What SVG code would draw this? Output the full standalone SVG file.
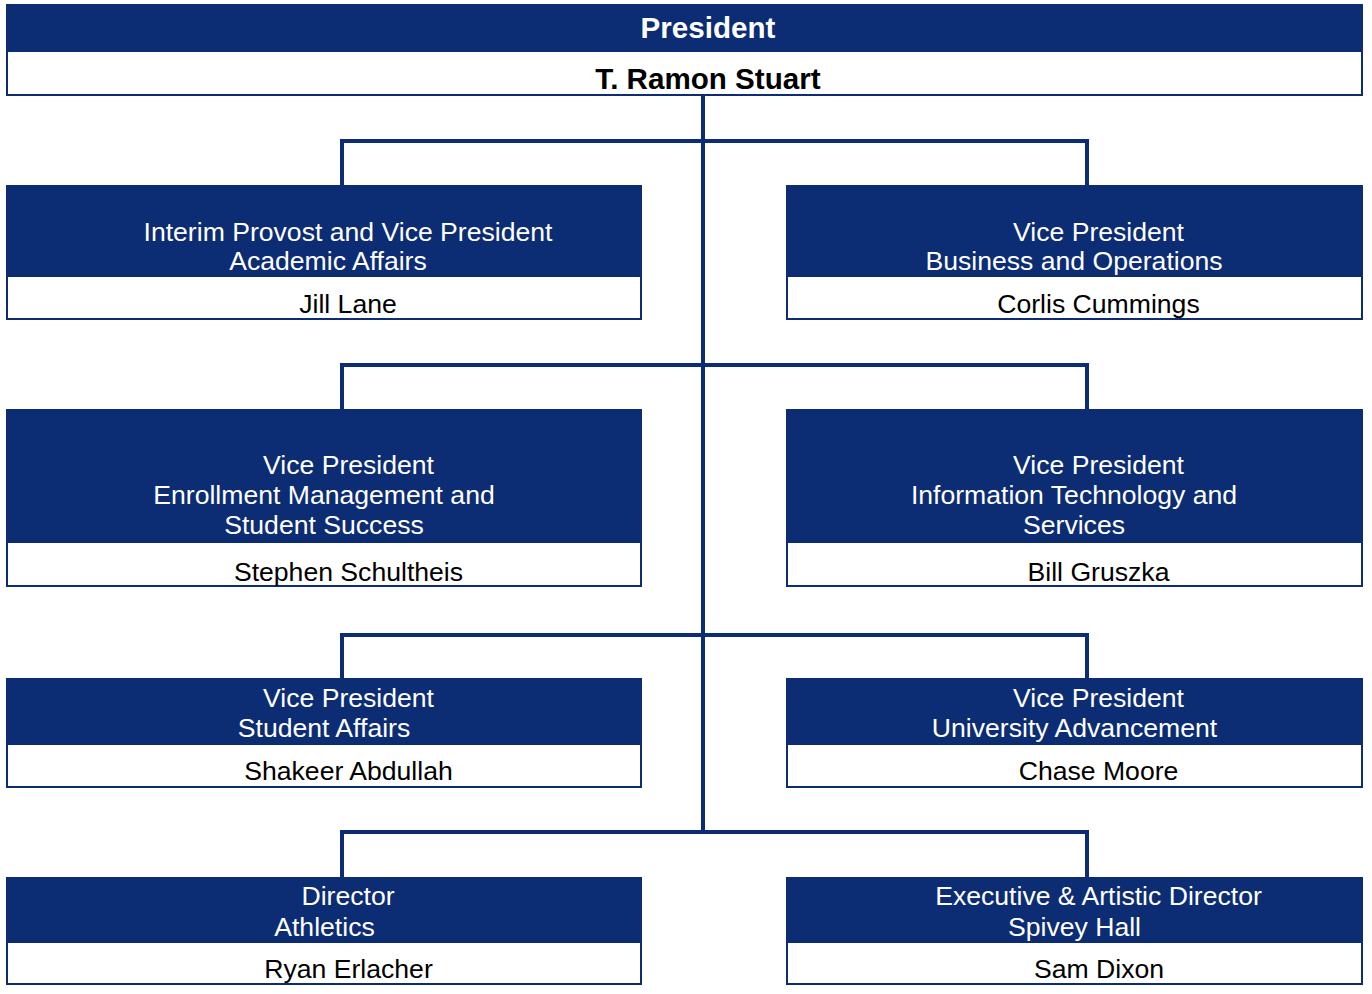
<svg xmlns="http://www.w3.org/2000/svg" width="1372" height="994" viewBox="0 0 1372 994">
<style>
.hd{fill:#0c2c74}
.wb{fill:#ffffff;stroke:#0c2c74;stroke-width:2}
.t{font-family:"Liberation Sans",Arial,sans-serif;font-size:26.6px;text-anchor:middle}
.tw{fill:#ffffff}
.tk{fill:#000000}
.tb{font-family:"Liberation Sans",Arial,sans-serif;font-size:29.6px;font-weight:bold;text-anchor:middle}
.c{fill:none;stroke:#0c2c74;stroke-width:4}
</style>
<rect width="1372" height="994" fill="#ffffff"/>
<g id="connectors">
<line class="c" x1="703" y1="95" x2="703" y2="834"/>
<polyline class="c" points="342,185 342,141 1087,141 1087,185"/>
<polyline class="c" points="342,409 342,365 1087,365 1087,409"/>
<polyline class="c" points="342,678 342,635 1087,635 1087,678"/>
<polyline class="c" points="342,877 342,832 1087,832 1087,877"/>
</g>
<g id="president">
<rect class="wb" x="7" y="50" width="1355" height="45"/>
<rect class="hd" x="6" y="4" width="1357" height="48"/>
<text class="tb tw" x="708" y="38">President</text>
<text class="tb tk" x="708" y="88.5">T. Ramon Stuart</text>
</g>
<g id="academic-affairs">
<rect class="wb" x="7" y="275" width="634" height="44"/>
<rect class="hd" x="6" y="185" width="636" height="92"/>
<text class="t tw" x="348" y="240.5">Interim Provost and Vice President</text>
<text class="t tw" x="328" y="270">Academic Affairs</text>
<text class="t tk" x="348" y="312.5">Jill Lane</text>
</g>
<g id="business-operations">
<rect class="wb" x="787" y="275" width="575" height="44"/>
<rect class="hd" x="786" y="185" width="577" height="92"/>
<text class="t tw" x="1098.5" y="240.5">Vice President</text>
<text class="t tw" x="1074" y="270">Business and Operations</text>
<text class="t tk" x="1098.5" y="312.5">Corlis Cummings</text>
</g>
<g id="enrollment">
<rect class="wb" x="7" y="541" width="634" height="45"/>
<rect class="hd" x="6" y="409" width="636" height="134"/>
<text class="t tw" x="348.5" y="473.5">Vice President</text>
<text class="t tw" x="324" y="503.5">Enrollment Management and</text>
<text class="t tw" x="324" y="533.5">Student Success</text>
<text class="t tk" x="348.5" y="580.5">Stephen Schultheis</text>
</g>
<g id="information-technology">
<rect class="wb" x="787" y="541" width="575" height="45"/>
<rect class="hd" x="786" y="409" width="577" height="134"/>
<text class="t tw" x="1098.5" y="473.5">Vice President</text>
<text class="t tw" x="1074" y="503.5">Information Technology and</text>
<text class="t tw" x="1074" y="533.5">Services</text>
<text class="t tk" x="1098.5" y="580.5">Bill Gruszka</text>
</g>
<g id="student-affairs">
<rect class="wb" x="7" y="743" width="634" height="44"/>
<rect class="hd" x="6" y="678" width="636" height="67"/>
<text class="t tw" x="348.5" y="706.5">Vice President</text>
<text class="t tw" x="324" y="737">Student Affairs</text>
<text class="t tk" x="348.5" y="780">Shakeer Abdullah</text>
</g>
<g id="university-advancement">
<rect class="wb" x="787" y="743" width="575" height="44"/>
<rect class="hd" x="786" y="678" width="577" height="67"/>
<text class="t tw" x="1098.5" y="706.5">Vice President</text>
<text class="t tw" x="1074.5" y="737">University Advancement</text>
<text class="t tk" x="1098.5" y="780">Chase Moore</text>
</g>
<g id="athletics">
<rect class="wb" x="7" y="941" width="634" height="43"/>
<rect class="hd" x="6" y="877" width="636" height="66"/>
<text class="t tw" x="348" y="905">Director</text>
<text class="t tw" x="324.5" y="935.5">Athletics</text>
<text class="t tk" x="348.5" y="977.5">Ryan Erlacher</text>
</g>
<g id="spivey-hall">
<rect class="wb" x="787" y="941" width="575" height="43"/>
<rect class="hd" x="786" y="877" width="577" height="66"/>
<text class="t tw" x="1098.5" y="905">Executive &amp; Artistic Director</text>
<text class="t tw" x="1074.5" y="935.5">Spivey Hall</text>
<text class="t tk" x="1099" y="977.5">Sam Dixon</text>
</g>
</svg>
